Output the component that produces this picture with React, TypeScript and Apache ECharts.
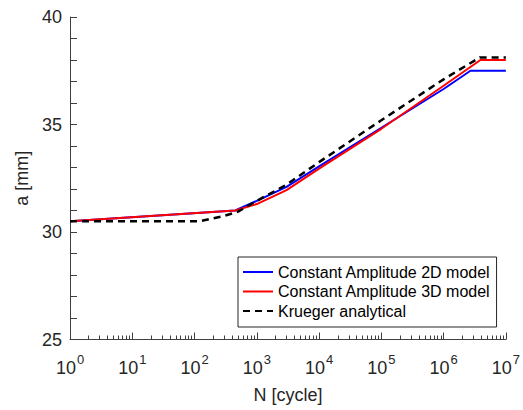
import React, { useEffect, useRef } from "react";
import * as echarts from "echarts";

const cycles2D = [1, 450, 1000, 3000, 1e4, 1e5, 1e6, 2.7e6, 1e7];
const crack2D = [30.5, 31.0, 31.45, 32.1, 33.05, 34.85, 36.65, 37.5, 37.5];

const cycles3D = [1, 450, 1000, 3000, 1e4, 1e5, 1e6, 3.9e6, 1e7];
const crack3D = [30.5, 31.0, 31.3, 31.95, 32.95, 34.8, 36.8, 38.0, 38.0];

const cyclesKr = [1, 120, 300, 500, 1000, 3000, 1e4, 1e5, 1e6, 3.8e6, 1e7];
const crackKr = [30.5, 30.5, 30.75, 30.95, 31.45, 32.2, 33.25, 35.2, 37.1, 38.12, 38.12];

const seriesNames = [
  "Constant Amplitude 2D model",
  "Constant Amplitude 3D model",
  "Krueger analytical",
];

const minorTicks: number[] = [];
for (let k = 0; k < 7; k++) {
  for (let m = 2; m <= 9; m++) minorTicks.push(m * Math.pow(10, k));
}

const pairs = (xs: number[], ys: number[]) => xs.map((x, i) => [x, ys[i]]);

export default function App() {
  const ref = useRef<HTMLDivElement>(null);
  useEffect(() => {
    if (!ref.current) return;
    const chart = echarts.init(ref.current, null, { renderer: "svg" });
    const axisColor = "#404040";
    const font = "'Liberation Sans', Arial, Helvetica, sans-serif";
    chart.setOption({
      animation: false,
      backgroundColor: "#ffffff",
      textStyle: { fontFamily: font },
      grid: { left: 70, right: 14, top: 17, bottom: 70.5, containLabel: false },
      legend: {
        orient: "vertical",
        left: 238,
        top: 257,
        width: 258,
        padding: [7, 6, 8, 4],
        itemWidth: 30,
        itemHeight: 16,
        itemGap: 3.5,
        borderColor: "#262626",
        borderWidth: 1,
        backgroundColor: "#ffffff",
        itemStyle: { opacity: 0 },
        textStyle: { fontSize: 16, color: "#000", fontFamily: font, lineHeight: 16 },
        data: seriesNames,
      },
      xAxis: [
        {
          type: "log",
          logBase: 10,
          min: 1,
          max: 1e7,
          name: "N [cycle]",
          nameLocation: "middle",
          nameGap: 46,
          nameTextStyle: { fontSize: 18, color: "#262626", fontFamily: font },
          axisLine: { show: true, lineStyle: { color: axisColor, width: 1 } },
          axisTick: { show: true, inside: true, length: 7, lineStyle: { color: axisColor } },
          minorTick: { show: false },
          splitLine: { show: false },
          axisLabel: {
            margin: 13.5,
            color: "#262626",
            formatter: (v: number) => `{b|10}{s|${Math.round(Math.log10(v))}}`,
            rich: {
              b: { fontSize: 18, color: "#262626", fontFamily: font, verticalAlign: "bottom", lineHeight: 23.5 },
              s: { fontSize: 13, color: "#262626", fontFamily: font, verticalAlign: "top", lineHeight: 14, padding: [0, 0, 0, 1] },
            },
          },
        },
        {
          type: "log",
          logBase: 10,
          min: 1,
          max: 1e7,
          gridIndex: 0,
          position: "bottom",
          axisLine: { show: false },
          axisLabel: { show: false },
          splitLine: { show: false },
          axisTick: {
            show: true,
            inside: true,
            length: 4,
            customValues: minorTicks,
            lineStyle: { color: axisColor },
          },
        },
      ],
      yAxis: {
        type: "value",
        min: 25,
        max: 40,
        interval: 5,
        name: "a [mm]",
        nameLocation: "middle",
        nameGap: 36,
        nameTextStyle: { fontSize: 18, color: "#262626", fontFamily: font },
        axisLine: { show: true, lineStyle: { color: axisColor, width: 1 } },
        axisTick: { show: true, inside: true, length: 7, lineStyle: { color: axisColor } },
        minorTick: { show: true, splitNumber: 5, length: 7, lineStyle: { color: axisColor } },
        splitLine: { show: false },
        axisLabel: { fontSize: 18, color: "#262626", margin: 8, fontFamily: font },
      },
      series: [
        {
          name: seriesNames[0],
          type: "line",
          xAxisIndex: 0,
          data: pairs(cycles2D, crack2D),
          symbol: "none",
          lineStyle: { color: "#0000ff", width: 2 },
          itemStyle: { color: "#0000ff" },
        },
        {
          name: seriesNames[1],
          type: "line",
          xAxisIndex: 0,
          data: pairs(cycles3D, crack3D),
          symbol: "none",
          lineStyle: { color: "#ff0000", width: 2 },
          itemStyle: { color: "#ff0000" },
        },
        {
          name: seriesNames[2],
          type: "line",
          xAxisIndex: 0,
          data: pairs(cyclesKr, crackKr),
          symbol: "none",
          lineStyle: { color: "#000000", width: 2.5, type: [7, 5] },
          itemStyle: { color: "#000000" },
        },
      ],
    });
    return () => chart.dispose();
  }, []);
  return <div ref={ref} style={{ width: 523, height: 410, position: "absolute", left: 0, top: 0 }} />;
}
